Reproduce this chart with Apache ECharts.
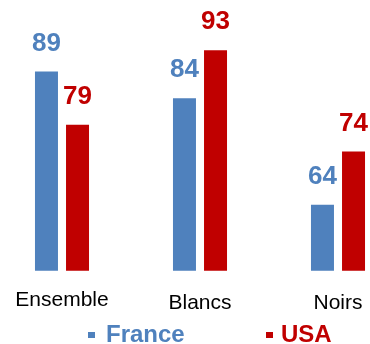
<!DOCTYPE html>
<html>
<head>
<meta charset="utf-8">
<script src="https://cdn.jsdelivr.net/npm/echarts@6/dist/echarts.min.js"></script>
<style>
html,body{margin:0;padding:0;background:#fff;}
#chart{width:370px;height:344px;}
</style>
</head>
<body>
<div id="chart"></div>
<script>
const categories = ['Ensemble', 'Blancs', 'Noirs'];
const seriesNames = ['France', 'USA'];
const franceValues = [89, 84, 64];
const usaValues = [79, 93, 74];

const BLUE = '#4f81bd';
const RED = '#c00000';
const FONT = "'Liberation Sans', Arial, sans-serif";

const chart = echarts.init(document.getElementById('chart'), null, {renderer: 'canvas'});

function labelCfg(color) {
  return {
    show: true,
    position: 'top',
    distance: 15,
    color: color,
    fontFamily: FONT,
    fontWeight: 'bold',
    fontSize: 26
  };
}

const option = {
  animation: false,
  backgroundColor: '#ffffff',
  grid: {left: -7, width: 414, top: 13, bottom: 73.3, containLabel: false, outerBoundsMode: 'none'},
  legend: [
    {
      data: [seriesNames[0]],
      left: 83, top: 318,
      icon: 'rect', itemWidth: 7, itemHeight: 6,
      textStyle: {color: BLUE, fontFamily: FONT, fontWeight: 'bold', fontSize: 24, padding: [0,0,0,6]}
    },
    {
      data: [seriesNames[1]],
      left: 261, top: 318,
      icon: 'rect', itemWidth: 7, itemHeight: 6,
      textStyle: {color: RED, fontFamily: FONT, fontWeight: 'bold', fontSize: 24, padding: [0,0,0,3]}
    }
  ],
  xAxis: {
    type: 'category',
    data: categories.map((c, i) => ({value: c, textStyle: {padding: i === 0 ? [0,0,0,0] : [3,0,0,0]}})),
    axisLine: {show: false},
    axisTick: {show: false},
    axisLabel: {color: '#000', fontFamily: FONT, fontSize: 21, margin: 19}
  },
  yAxis: {
    type: 'value',
    min: 51.6,
    max: 100,
    show: false,
    splitLine: {show: false}
  },
  series: [
    {
      name: seriesNames[0], type: 'bar', data: franceValues,
      barWidth: 23, barGap: '35%',
      itemStyle: {color: BLUE},
      label: labelCfg(BLUE)
    },
    {
      name: seriesNames[1], type: 'bar', data: usaValues,
      barWidth: 23,
      itemStyle: {color: RED},
      label: labelCfg(RED)
    }
  ]
};
chart.setOption(option);
</script>
</body>
</html>
